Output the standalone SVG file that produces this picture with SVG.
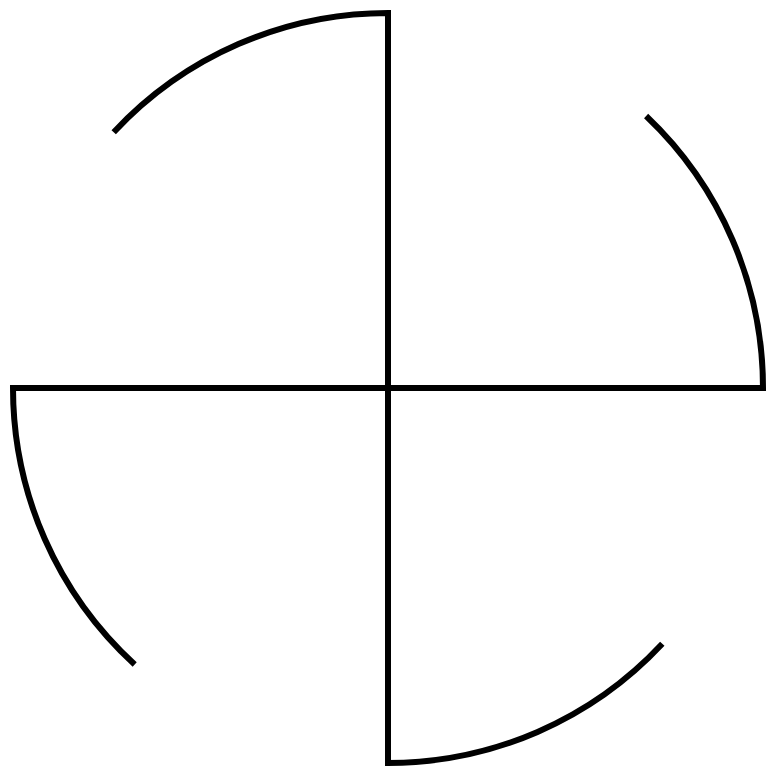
<svg xmlns="http://www.w3.org/2000/svg" width="774" height="771" viewBox="0 0 774 771">
<style>
.arm{fill:none;stroke:#000;stroke-width:6;stroke-linejoin:miter;stroke-linecap:butt}
</style>
<rect width="774" height="771" fill="#fff"/>
<g id="top"><path class="arm" d="M388,388 V13 A375,375 0 0 0 113.7,132.3"/></g>
<g id="right"><path class="arm" d="M388,388 H763 A375,375 0 0 0 646.1,116"/></g>
<g id="bottom"><path class="arm" d="M388,388 V763 A375,375 0 0 0 662.3,643.7"/></g>
<g id="left"><path class="arm" d="M388,388 H13 A375,375 0 0 0 134.7,664.5"/></g>
</svg>
